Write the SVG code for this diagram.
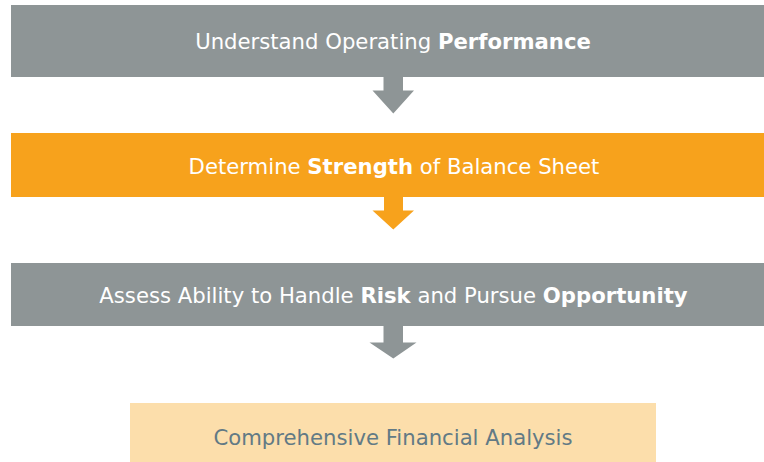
<svg xmlns="http://www.w3.org/2000/svg" width="764" height="462" viewBox="0 0 764 462">
  <style>
    .step-gray { fill: #8e9596; }
    .step-orange { fill: #f7a21c; }
    .step-result { fill: #fcdeab; }
    .lbl { font-family: "DejaVu Sans", Verdana, sans-serif; font-size: 21.2px; fill: #ffffff; text-anchor: middle; }
    .lbl-dark { fill: #627a85; }
    .b { font-weight: bold; }
  </style>
  <rect width="764" height="462" fill="#ffffff"/>

  <g id="connectors">
    <path class="step-gray" d="M383.5,77 H403 V90.5 H414 L393.3,113.5 L372.5,90.5 H383.5 Z"/>
    <path class="step-orange" d="M384,197 H403 V210.5 H414 L393.3,229.5 L372.5,210.5 H384 Z"/>
    <path class="step-gray" d="M383.5,326 H403 V342.5 H416.5 L393.3,358.5 L369.5,342.5 H383.5 Z"/>
  </g>

  <g id="node-performance">
    <rect class="step-gray" x="11" y="5" width="753" height="72"/>
    <text class="lbl" x="393" y="49.3">Understand Operating <tspan class="b">Performance</tspan></text>
  </g>

  <g id="node-strength">
    <rect class="step-orange" x="11" y="133" width="753" height="64"/>
    <text class="lbl" x="394" y="174">Determine <tspan class="b">Strength</tspan> of Balance Sheet</text>
  </g>

  <g id="node-risk">
    <rect class="step-gray" x="11" y="263" width="753" height="63"/>
    <text class="lbl" x="393.5" y="303">Assess Ability to Handle <tspan class="b">Risk</tspan> and Pursue <tspan class="b">Opportunity</tspan></text>
  </g>

  <g id="node-analysis">
    <rect class="step-result" x="130" y="403" width="526" height="59"/>
    <text class="lbl lbl-dark" x="393" y="445">Comprehensive Financial Analysis</text>
  </g>
</svg>
